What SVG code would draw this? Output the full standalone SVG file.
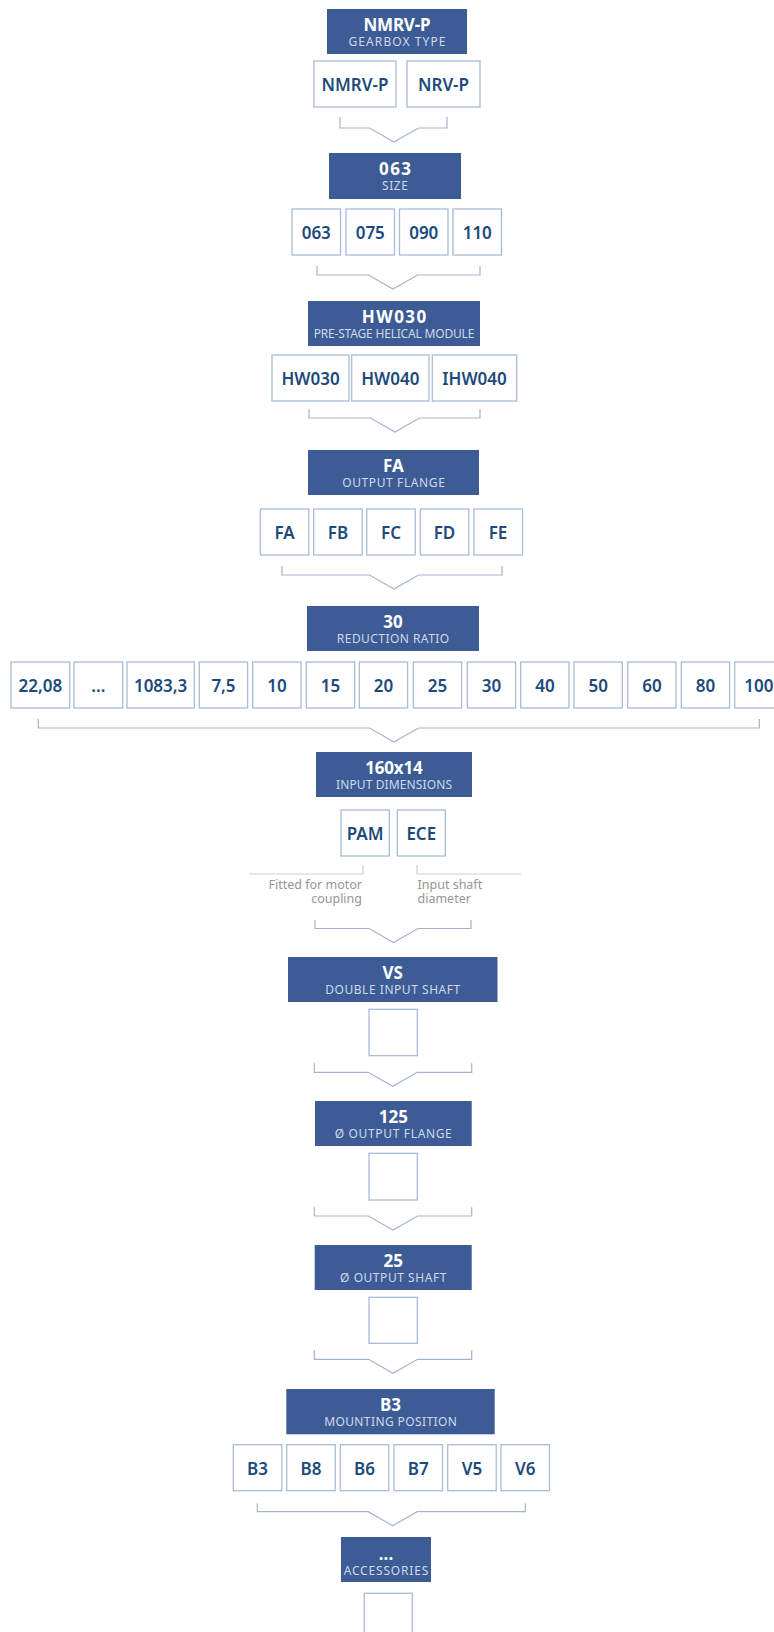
<svg xmlns="http://www.w3.org/2000/svg" width="774" height="1632" viewBox="0 0 774 1632">
<style>
.hdr{fill:#3d5c96}
.ht{font-family:'Noto Sans',sans-serif;font-weight:700;font-size:17px;fill:#ffffff;text-anchor:middle}
.hs{font-family:'Noto Sans',sans-serif;font-size:12px;fill:#cfd8ea;text-anchor:middle}
.box{fill:#ffffff;stroke:#a9bcd5;stroke-width:1.3}
.bt{font-family:'Noto Sans',sans-serif;font-weight:600;font-size:17px;fill:#1d4a7c;text-anchor:middle}
.br{fill:none;stroke:#a3b5cd;stroke-width:1.2}
.al{fill:none;stroke:#cfcfcf;stroke-width:1.2}
.ann{font-family:'Noto Sans',sans-serif;font-size:12.5px;fill:#959595}
</style>
<rect width="774" height="1632" fill="#ffffff"/>

<g id="connectors">
<path class="br" d="M340,117V128H369.5L394,142L418.5,128H447V117"/>
<path class="br" d="M317,266V275H368.5L393,289L417.5,275H480V266"/>
<path class="br" d="M309,409V418H370.5L395,432L419.5,418H480V409"/>
<path class="br" d="M282,566V575H369.5L394,589L418.5,575H502V566"/>
<path class="br" d="M38.3,719V728H369.5L394,742L418.5,728H759.3V719"/>
<path class="br" d="M315,920V928.5H369L393.5,942.5L418,928.5H471V920"/>
<path class="br" d="M314.3,1063.3V1072.3H368.2L392.7,1086.3L417.2,1072.3H471.7V1063.3"/>
<path class="br" d="M314.3,1207.3V1216H368.5L393,1230L417.5,1216H471.7V1207.3"/>
<path class="br" d="M314.3,1350V1359.3H368.5L393,1373.3L417.5,1359.3H471.7V1350"/>
<path class="br" d="M257.3,1503.3V1511.7H368.2L392.7,1525.7L417.2,1511.7H525.3V1503.3"/>
<path class="al" d="M249,874H363V865"/>
<path class="al" d="M417,865V874H521"/>
</g>

<g id="gearbox-type">
<rect class="hdr" x="327" y="9" width="140" height="45"/>
<text class="ht" x="397" y="31" textLength="67" lengthAdjust="spacing">NMRV-P</text>
<text class="hs" x="397" y="46" textLength="97" lengthAdjust="spacing">GEARBOX TYPE</text>
</g>
<g id="opt-nmrv-p"><rect class="box" x="314" y="61" width="82" height="46"/><text class="bt" x="355" y="91">NMRV-P</text></g>
<g id="opt-nrv-p"><rect class="box" x="407" y="61" width="73" height="46"/><text class="bt" x="443.5" y="91">NRV-P</text></g>

<g id="size">
<rect class="hdr" x="329" y="153" width="132" height="46"/>
<text class="ht" x="395" y="175" textLength="32" lengthAdjust="spacing">063</text>
<text class="hs" x="395" y="190" textLength="26" lengthAdjust="spacing">SIZE</text>
</g>
<g id="size-063"><rect class="box" x="292" y="209" width="48.5" height="46"/><text class="bt" x="316.25" y="239">063</text></g>
<g id="size-075"><rect class="box" x="346" y="209" width="48.5" height="46"/><text class="bt" x="370.25" y="239">075</text></g>
<g id="size-090"><rect class="box" x="399.5" y="209" width="48.5" height="46"/><text class="bt" x="423.75" y="239">090</text></g>
<g id="size-110"><rect class="box" x="453" y="209" width="48.5" height="46"/><text class="bt" x="477.25" y="239">110</text></g>

<g id="helical-module">
<rect class="hdr" x="308" y="301" width="172" height="45"/>
<text class="ht" x="394" y="323" textLength="64.7" lengthAdjust="spacing">HW030</text>
<text class="hs" x="394" y="338" textLength="160.7" lengthAdjust="spacing">PRE-STAGE HELICAL MODULE</text>
</g>
<g id="hw030"><rect class="box" x="272" y="355" width="77" height="46"/><text class="bt" x="310.5" y="385">HW030</text></g>
<g id="hw040"><rect class="box" x="351.7" y="355" width="77.3" height="46"/><text class="bt" x="390.3" y="385">HW040</text></g>
<g id="ihw040"><rect class="box" x="432.3" y="355" width="84.4" height="46"/><text class="bt" x="474.5" y="385">IHW040</text></g>

<g id="output-flange">
<rect class="hdr" x="308" y="450" width="171" height="45"/>
<text class="ht" x="393.5" y="472">FA</text>
<text class="hs" x="393.5" y="487" textLength="102.7" lengthAdjust="spacing">OUTPUT FLANGE</text>
</g>
<g id="fa"><rect class="box" x="260.3" y="509" width="48.5" height="46"/><text class="bt" x="284.5" y="539">FA</text></g>
<g id="fb"><rect class="box" x="313.7" y="509" width="48.5" height="46"/><text class="bt" x="338" y="539">FB</text></g>
<g id="fc"><rect class="box" x="366.7" y="509" width="48.5" height="46"/><text class="bt" x="391" y="539">FC</text></g>
<g id="fd"><rect class="box" x="420.3" y="509" width="48.5" height="46"/><text class="bt" x="444.5" y="539">FD</text></g>
<g id="fe"><rect class="box" x="474" y="509" width="48.5" height="46"/><text class="bt" x="498" y="539">FE</text></g>

<g id="reduction-ratio">
<rect class="hdr" x="307" y="606" width="172" height="45"/>
<text class="ht" x="393" y="628">30</text>
<text class="hs" x="393" y="643" textLength="112.3" lengthAdjust="spacing">REDUCTION RATIO</text>
</g>
<g id="r-22-08"><rect class="box" x="11" y="662" width="58.7" height="46"/><text class="bt" x="40.3" y="692">22,08</text></g>
<g id="r-dots"><rect class="box" x="74" y="662" width="48.7" height="46"/><text class="bt" x="98.3" y="692">...</text></g>
<g id="r-1083-3"><rect class="box" x="127" y="662" width="67.3" height="46"/><text class="bt" x="160.6" y="692">1083,3</text></g>
<g id="r-7-5"><rect class="box" x="199.3" y="662" width="48.3" height="46"/><text class="bt" x="223.5" y="692">7,5</text></g>
<g id="r-10"><rect class="box" x="252.7" y="662" width="48.3" height="46"/><text class="bt" x="276.9" y="692">10</text></g>
<g id="r-15"><rect class="box" x="306.3" y="662" width="48.3" height="46"/><text class="bt" x="330.5" y="692">15</text></g>
<g id="r-20"><rect class="box" x="359.3" y="662" width="48.3" height="46"/><text class="bt" x="383.5" y="692">20</text></g>
<g id="r-25"><rect class="box" x="413.3" y="662" width="48.3" height="46"/><text class="bt" x="437.5" y="692">25</text></g>
<g id="r-30"><rect class="box" x="467.3" y="662" width="48.3" height="46"/><text class="bt" x="491.5" y="692">30</text></g>
<g id="r-40"><rect class="box" x="520.7" y="662" width="48.3" height="46"/><text class="bt" x="544.9" y="692">40</text></g>
<g id="r-50"><rect class="box" x="574" y="662" width="48.3" height="46"/><text class="bt" x="598.2" y="692">50</text></g>
<g id="r-60"><rect class="box" x="627.7" y="662" width="48.3" height="46"/><text class="bt" x="651.9" y="692">60</text></g>
<g id="r-80"><rect class="box" x="681.3" y="662" width="48.3" height="46"/><text class="bt" x="705.5" y="692">80</text></g>
<g id="r-100"><rect class="box" x="734.7" y="662" width="48.3" height="46"/><text class="bt" x="758.9" y="692">100</text></g>

<g id="input-dimensions">
<rect class="hdr" x="316" y="752" width="156" height="45"/>
<text class="ht" x="394" y="774" textLength="57.7" lengthAdjust="spacing">160x14</text>
<text class="hs" x="394" y="789" textLength="116" lengthAdjust="spacing">INPUT DIMENSIONS</text>
</g>
<g id="pam"><rect class="box" x="341" y="810" width="48.3" height="46"/><text class="bt" x="365.1" y="840">PAM</text></g>
<g id="ece"><rect class="box" x="397.3" y="810" width="48" height="46"/><text class="bt" x="421.3" y="840">ECE</text></g>
<g id="note-pam">
<text class="ann" x="362" y="889" text-anchor="end">Fitted for motor</text>
<text class="ann" x="362" y="903" text-anchor="end">coupling</text>
</g>
<g id="note-ece">
<text class="ann" x="417.5" y="889">Input shaft</text>
<text class="ann" x="417.5" y="903">diameter</text>
</g>

<g id="double-input-shaft">
<rect class="hdr" x="288" y="957" width="209.5" height="45"/>
<text class="ht" x="392.75" y="979">VS</text>
<text class="hs" x="392.75" y="994" textLength="135" lengthAdjust="spacing">DOUBLE INPUT SHAFT</text>
</g>
<g id="vs-empty"><rect class="box" x="369" y="1009.3" width="48.3" height="46.4"/></g>

<g id="output-flange-dia">
<rect class="hdr" x="315" y="1101" width="156.7" height="45"/>
<text class="ht" x="393.3" y="1123">125</text>
<text class="hs" x="393.3" y="1138" textLength="117" lengthAdjust="spacing">Ø OUTPUT FLANGE</text>
</g>
<g id="flange-empty"><rect class="box" x="369" y="1153.3" width="48.3" height="46.7"/></g>

<g id="output-shaft">
<rect class="hdr" x="314.7" y="1245" width="157" height="45"/>
<text class="ht" x="393.2" y="1267">25</text>
<text class="hs" x="393.2" y="1282" textLength="106.3" lengthAdjust="spacing">Ø OUTPUT SHAFT</text>
</g>
<g id="shaft-empty"><rect class="box" x="369" y="1297.3" width="48.3" height="46"/></g>

<g id="mounting-position">
<rect class="hdr" x="286.3" y="1389" width="208.4" height="45.3"/>
<text class="ht" x="390.5" y="1411">B3</text>
<text class="hs" x="390.5" y="1426" textLength="132.7" lengthAdjust="spacing">MOUNTING POSITION</text>
</g>
<g id="m-b3"><rect class="box" x="233.3" y="1444.7" width="48.5" height="46"/><text class="bt" x="257.5" y="1474.7">B3</text></g>
<g id="m-b8"><rect class="box" x="286.7" y="1444.7" width="48.5" height="46"/><text class="bt" x="311" y="1474.7">B8</text></g>
<g id="m-b6"><rect class="box" x="340.3" y="1444.7" width="48.5" height="46"/><text class="bt" x="364.5" y="1474.7">B6</text></g>
<g id="m-b7"><rect class="box" x="394" y="1444.7" width="48.5" height="46"/><text class="bt" x="418.2" y="1474.7">B7</text></g>
<g id="m-v5"><rect class="box" x="447.7" y="1444.7" width="48.5" height="46"/><text class="bt" x="471.9" y="1474.7">V5</text></g>
<g id="m-v6"><rect class="box" x="501" y="1444.7" width="48.5" height="46"/><text class="bt" x="525.2" y="1474.7">V6</text></g>

<g id="accessories">
<rect class="hdr" x="341" y="1537" width="90" height="45"/>
<text class="ht" x="386" y="1560">...</text>
<text class="hs" x="386" y="1575" textLength="84.7" lengthAdjust="spacing">ACCESSORIES</text>
</g>
<g id="accessories-empty"><rect class="box" x="364.3" y="1593.3" width="48" height="50"/></g>
</svg>
